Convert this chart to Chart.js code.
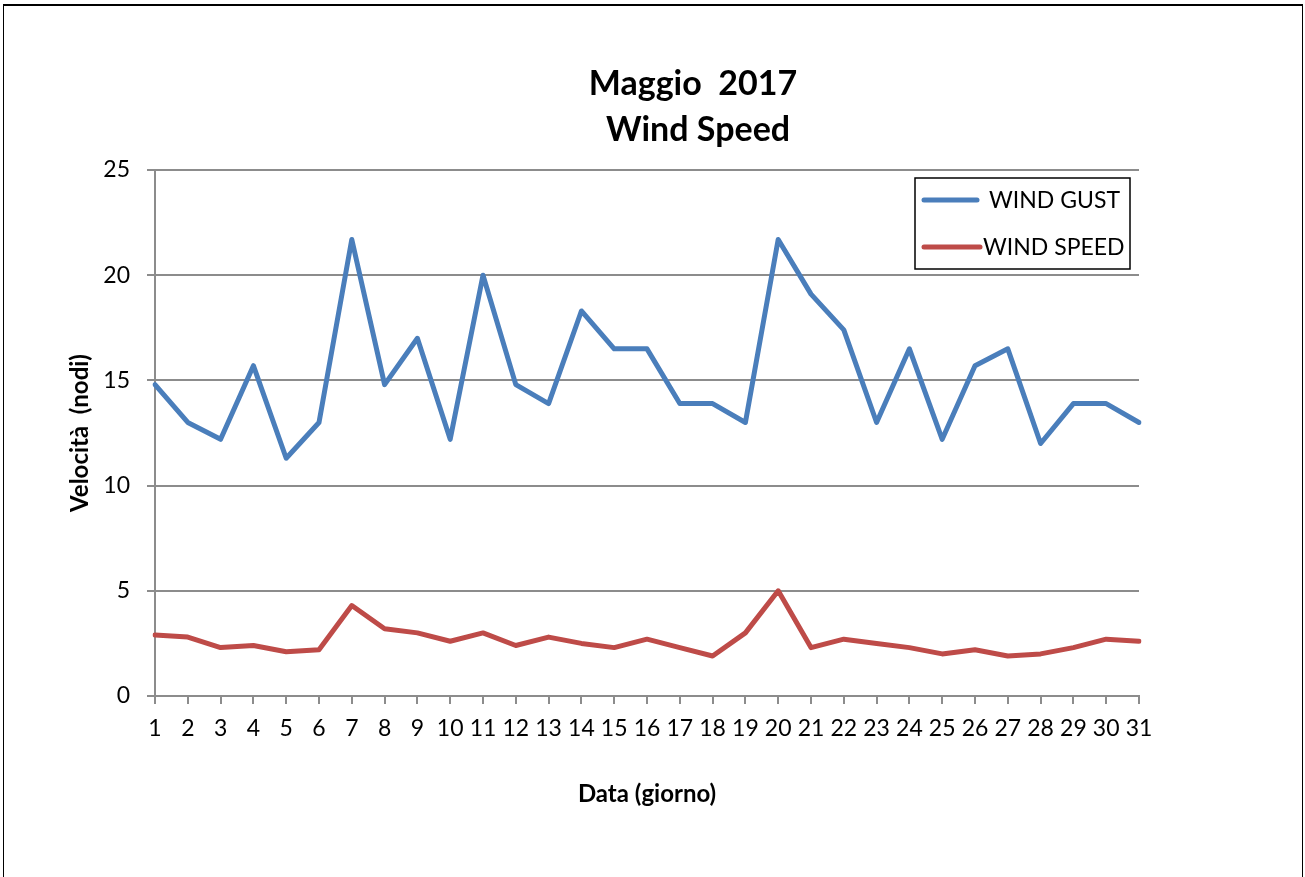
<!DOCTYPE html>
<html>
<head>
<meta charset="utf-8">
<title>Maggio 2017 - Wind Speed</title>
<script src="https://cdn.jsdelivr.net/npm/chart.js@4.4.1/dist/chart.umd.min.js"></script>
<style>
    html, body { margin: 0; padding: 0; background: #fff; }
    #wrap { position: relative; width: 1305px; height: 877px; overflow: hidden; }
    #frame {
        position: absolute; left: 3px; top: 4px; width: 1298px; height: 900px;
        border-top: 2px solid #000; border-left: 1px solid #000; border-right: 1px solid #000;
        pointer-events: none;
    }
    canvas { position: absolute; left: 0; top: 0; }
</style>
</head>
<body>
<div id="wrap">
    <canvas id="windChart" width="1305" height="877"></canvas>
    <div id="frame"></div>
</div>
<script>
// days of the month
var days = [];
for (var d = 1; d <= 31; d++) days.push(String(d));

// values (knots)
var windGust = [14.8, 13.0, 12.2, 15.7, 11.3, 13.0, 21.7, 14.8, 17.0, 12.2,
                20.0, 14.8, 13.9, 18.3, 16.5, 16.5, 13.9, 13.9, 13.0, 21.7,
                19.1, 17.4, 13.0, 16.5, 12.2, 15.7, 16.5, 12.0, 13.9, 13.9, 13.0];
var windSpeed = [2.9, 2.8, 2.3, 2.4, 2.1, 2.2, 4.3, 3.2, 3.0, 2.6,
                 3.0, 2.4, 2.8, 2.5, 2.3, 2.7, 2.3, 1.9, 3.0, 5.0,
                 2.3, 2.7, 2.5, 2.3, 2.0, 2.2, 1.9, 2.0, 2.3, 2.7, 2.6];
var yTicks = [0, 5, 10, 15, 20, 25];

var titleLines = ['Maggio  2017', 'Wind Speed'];
var seriesNames = ['WIND GUST', 'WIND SPEED'];
var seriesColors = ['#4a7ebb', '#be4b48'];

var gridGray = '#8c8c8c';
var fontFamily = 'Lato, "Open Sans", sans-serif';

// title + boxed legend, drawn the way the spreadsheet chart has them
var decorPlugin = {
    id: 'decor',
    afterDraw: function(chart) {
        var ctx = chart.ctx;
        var area = chart.chartArea;
        ctx.save();

        // title
        ctx.fillStyle = '#000';
        ctx.font = 'bold 34px ' + fontFamily;
        ctx.textAlign = 'center';
        ctx.textBaseline = 'middle';
        ctx.fillText(titleLines[0], 693, 84);
        ctx.fillText(titleLines[1], 698, 130);

        // legend box
        var boxX = area.right - 224, boxY = area.top + 8, boxW = 215, boxH = 91;
        ctx.fillStyle = '#fff';
        ctx.fillRect(boxX, boxY, boxW, boxH);
        ctx.strokeStyle = '#000';
        ctx.lineWidth = 1.5;
        ctx.strokeRect(boxX, boxY, boxW, boxH);

        ctx.font = '23px ' + fontFamily;
        ctx.textAlign = 'left';
        ctx.lineCap = 'round';
        var rows = [
            { y: boxY + 22, x1: boxX + 9, x2: boxX + 62, tx: boxX + 74 },
            { y: boxY + 69, x1: boxX + 9, x2: boxX + 65, tx: boxX + 68 }
        ];
        rows.forEach(function(r, i) {
            ctx.strokeStyle = seriesColors[i];
            ctx.lineWidth = 5;
            ctx.beginPath();
            ctx.moveTo(r.x1, r.y);
            ctx.lineTo(r.x2, r.y);
            ctx.stroke();
            ctx.fillStyle = '#000';
            ctx.fillText(seriesNames[i], r.tx, r.y + 1);
        });
        ctx.restore();
    }
};

var ctx = document.getElementById('windChart').getContext('2d');
var windChart = new Chart(ctx, {
    type: 'line',
    data: {
        labels: days,
        datasets: [{
            label: seriesNames[0],
            data: windGust,
            borderColor: seriesColors[0],
            borderWidth: 5,
            pointRadius: 0,
            tension: 0,
            borderJoinStyle: 'round',
            borderCapStyle: 'round'
        }, {
            label: seriesNames[1],
            data: windSpeed,
            borderColor: seriesColors[1],
            borderWidth: 5,
            pointRadius: 0,
            tension: 0,
            borderJoinStyle: 'round',
            borderCapStyle: 'round'
        }]
    },
    options: {
        responsive: false,
        animation: false,
        layout: {
            padding: { top: 170, right: 166, bottom: 0, left: 0 }
        },
        plugins: {
            legend: { display: false },
            title: { display: false },
            tooltip: { enabled: false }
        },
        scales: {
            x: {
                offset: false,
                afterFit: function(scale) { scale.height = 181; },
                grid: {
                    drawOnChartArea: false,
                    drawTicks: true,
                    tickLength: 8,
                    color: gridGray,
                    lineWidth: 2
                },
                border: { color: gridGray, width: 2 },
                ticks: {
                    color: '#000',
                    font: { family: fontFamily, size: 23 },
                    padding: 11,
                    maxRotation: 0,
                    autoSkip: false
                },
                title: {
                    display: true,
                    text: 'Data (giorno)',
                    color: '#000',
                    font: { family: fontFamily, size: 24, weight: 'bold' },
                    padding: { top: 0, bottom: 68 }
                }
            },
            y: {
                min: 0,
                max: 25,
                afterFit: function(scale) { scale.width = 155; },
                afterBuildTicks: function(scale) {
                    scale.ticks = yTicks.map(function(v) { return { value: v }; });
                },
                grid: {
                    drawTicks: true,
                    tickLength: 8,
                    color: gridGray,
                    lineWidth: 2
                },
                border: { color: gridGray, width: 2 },
                ticks: {
                    color: '#000',
                    font: { family: fontFamily, size: 23 },
                    padding: 17
                },
                title: {
                    display: true,
                    text: 'Velocità  (nodi)',
                    color: '#000',
                    font: { family: fontFamily, size: 24, weight: 'bold' },
                    padding: { top: 66, bottom: 0 }
                }
            }
        }
    },
    plugins: [decorPlugin]
});
</script>
</body>
</html>
